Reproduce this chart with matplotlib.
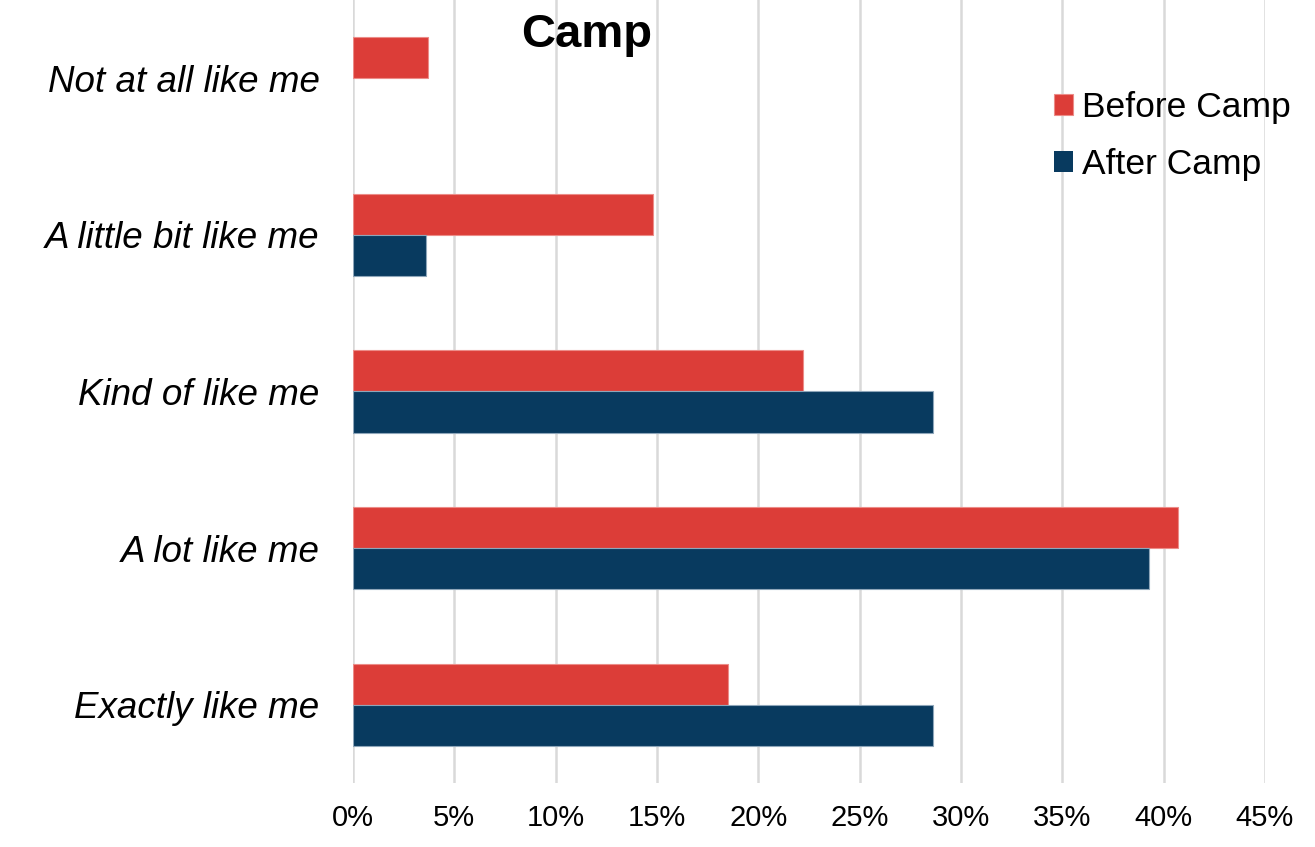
import numpy as np
import matplotlib
matplotlib.use("Agg")
import matplotlib.pyplot as plt
from matplotlib.ticker import PercentFormatter

categorias = ["Not at all like me", "A little bit like me", "Kind of like me",
              "A lot like me", "Exactly like me"]
antes = [3.7, 14.8, 22.2, 40.7, 18.5]     # Before Camp (%)
depois = [0.0, 3.6, 28.6, 39.3, 28.6]     # After Camp (%)
xticks = [0, 5, 10, 15, 20, 25, 30, 35, 40, 45]

cor_antes = "#DC3D38"
cor_depois = "#083A5F"

plt.rcParams["font.family"] = ["Liberation Sans", "DejaVu Sans"]

fig = plt.figure(figsize=(13.15, 8.47), dpi=100)
ax = fig.add_axes([353 / 1315, 1 - 783 / 847, (1265 - 353) / 1315, 783 / 847])

y = np.arange(len(categorias))
h = 0.262
# sem contorno nas barras de valor zero
lw_antes = [0 if v == 0 else 0.8 for v in antes]
lw_depois = [0 if v == 0 else 0.8 for v in depois]
ax.barh(y - h / 2, antes, height=h, color=cor_antes, edgecolor="#ec8c88",
        linewidth=lw_antes, label="Before Camp", zorder=3)
ax.barh(y + h / 2, depois, height=h, color=cor_depois, edgecolor="#8ea6ba",
        linewidth=lw_depois, label="After Camp", zorder=3)

ax.set_ylim(len(categorias) - 0.5, -0.5)
ax.set_xlim(0, 45)
ax.set_xticks(xticks)
ax.xaxis.set_major_formatter(PercentFormatter(decimals=0))
ax.set_yticks(y)
ax.set_yticklabels(categorias, fontsize=26.5, style="italic")
ax.tick_params(axis="x", labelsize=21, length=0, pad=15)
ax.tick_params(axis="y", length=0, pad=24)

ax.grid(axis="x", color="#d9d9d9", linewidth=1.8, zorder=0)
ax.set_axisbelow(True)
for s in ax.spines.values():
    s.set_visible(False)

# titulo cortado no topo (so a segunda linha e visivel)
fig.text(587 / 1315, 1 - 47 / 847, "Camp", fontsize=34, fontweight="bold",
         ha="center", va="baseline")

fig.legend(loc="upper left", bbox_to_anchor=(1054 / 1315, 1 - 91 / 847),
           frameon=False, fontsize=25.5, handlelength=0.55, handleheight=0.55,
           handletextpad=0.25, labelspacing=0.68, borderpad=0, borderaxespad=0)

fig.savefig("out.png", dpi=100)
